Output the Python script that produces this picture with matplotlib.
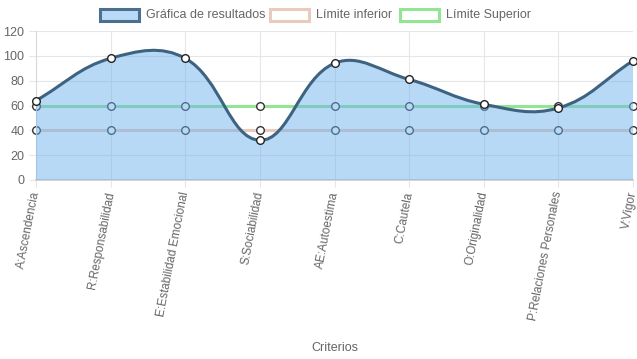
import matplotlib
matplotlib.use("Agg")
import matplotlib.pyplot as plt
import numpy as np
from matplotlib.path import Path
from matplotlib.patches import PathPatch, Rectangle

categories = ["A:Ascendencia", "R:Responsabilidad", "E:Estabilidad Emocional",
              "S:Sociabilidad", "AE:Autoestima", "C:Cautela", "O:Originalidad",
              "P:Relaciones Personales", "V:Vigor"]
resultados = [64, 98, 98, 32, 94, 81, 61, 58, 96]
limite_inferior = [40, 40, 40, 40, 40, 40, 40, 40, 40]
limite_superior = [60, 60, 60, 60, 60, 60, 60, 60, 60]
y_ticks = [0, 20, 40, 60, 80, 100, 120]

plt.rcParams['font.family'] = ['Liberation Sans', 'DejaVu Sans']

W, H = 637, 359
fig = plt.figure(figsize=(W / 100, H / 100), dpi=100)
ax = fig.add_axes([36 / W, 1 - 180 / H, (633 - 36) / W, (180 - 31) / H])
x = np.arange(len(categories))
ax.set_xlim(0, len(categories) - 1)
ax.set_ylim(0, 120)

grid_c = "#e6e6e6"
ax.set_yticks(y_ticks)
ax.set_xticks(x)
ax.grid(True, color=grid_c, linewidth=0.8, zorder=0)
for s in ["top", "right"]:
    ax.spines[s].set_visible(False)
ax.spines["left"].set_color("#d9d9d9")
ax.spines["bottom"].set_color("#cccccc")
ax.spines["bottom"].set_linewidth(1.2)
ax.tick_params(axis="both", colors=grid_c, labelcolor="#666666", labelsize=9, length=5, width=0.8)
ax.tick_params(axis="x", labelsize=8.5)
ax.set_yticklabels([str(v) for v in y_ticks])
ax.set_xticklabels(categories, rotation=79, ha="right", va="center", rotation_mode="anchor")
ax.set_xlabel("Criterios", color="#666666", fontsize=9, labelpad=0)
ax.xaxis.set_label_coords(0.5, -1.09)

fig.canvas.draw()
tr = ax.transData
inv = tr.inverted()


def spline_path(xs, ys, t=0.4):
    pts = tr.transform(np.column_stack([xs, ys]))
    n = len(pts)
    cp_prev = np.zeros_like(pts)
    cp_next = np.zeros_like(pts)
    for i in range(n):
        p0 = pts[i - 1] if i > 0 else pts[i]
        p1 = pts[i]
        p2 = pts[i + 1] if i < n - 1 else pts[i]
        d01 = np.hypot(*(p1 - p0))
        d12 = np.hypot(*(p2 - p1))
        tot = d01 + d12
        s01 = d01 / tot if tot else 0
        s12 = d12 / tot if tot else 0
        cp_prev[i] = p1 - t * s01 * (p2 - p0)
        cp_next[i] = p1 + t * s12 * (p2 - p0)
    verts = [inv.transform(pts[0])]
    codes = [Path.MOVETO]
    for i in range(n - 1):
        verts += [inv.transform(cp_next[i]), inv.transform(cp_prev[i + 1]), inv.transform(pts[i + 1])]
        codes += [Path.CURVE4] * 3
    return verts, codes


low_c = "#e8cbbd"
up_c = "#92e592"
line_c = "#3e6381"
fill_c = (0.42, 0.69, 0.93, 0.48)

# limits (drawn first, below fill)
for vals, col in [(limite_inferior, low_c), (limite_superior, up_c)]:
    ax.plot(x, vals, color=col, linewidth=2.2, zorder=2)
    ax.plot(x, vals, linestyle="none", marker="o", markersize=5.5,
            markerfacecolor="white", markeredgecolor="#333333", markeredgewidth=1, zorder=2, clip_on=False)

verts, codes = spline_path(x, resultados)
fverts = verts + [(x[-1], 0), (x[0], 0), verts[0]]
fcodes = codes + [Path.LINETO, Path.LINETO, Path.CLOSEPOLY]
ax.add_patch(PathPatch(Path(fverts, fcodes), facecolor=fill_c, edgecolor="none", zorder=3))
ax.add_patch(PathPatch(Path(verts, codes), facecolor="none", edgecolor=line_c, linewidth=2.2, zorder=4))
ax.plot(x, resultados, linestyle="none", marker="o", markersize=5.5,
        markerfacecolor="white", markeredgecolor="#222222", markeredgewidth=1, zorder=5, clip_on=False)


def legend_item(x0, label, face, edge):
    fig.patches.append(Rectangle((x0 / W, 1 - 21 / H), 39 / W, 12 / H, transform=fig.transFigure,
                                 facecolor=face, edgecolor=edge, linewidth=2.2, figure=fig))
    fig.text((x0 + 46) / W, 1 - 15 / H, label, color="#666666", fontsize=9, va="center", ha="left")


legend_item(100, "Gráfica de resultados", (0.73, 0.85, 0.97), "#4a6f8f")
legend_item(270, "Límite inferior", "white", low_c)
legend_item(400, "Límite Superior", "white", up_c)

fig.savefig("out.png", dpi=100)
